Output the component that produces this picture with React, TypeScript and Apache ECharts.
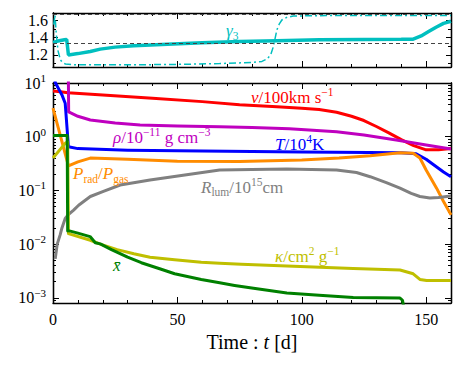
import React, { useEffect, useRef } from 'react';
import * as echarts from 'echarts';

const serif = "'Liberation Serif', 'DejaVu Serif', serif";

// ---------- axes / ticks ----------
const X_MIN = 0;
const X_MAX = 160;
const X_STEP = 50;
const X_LABELS = [0, 50, 100, 150];

const G_MIN = 1.06;
const G_MAX = 1.685;
const G_LABELS = [1.2, 1.4, 1.6];
const G_MINOR = [1.1, 1.3, 1.5];
const G_REF = [5 / 3, 4 / 3];

const L_MIN = 0.0008;
const L_MAX = 10;
const L_MAJOR = [0.001, 0.01, 0.1, 1, 10];
const L_MINOR = [
  0.0009,
  0.002, 0.003, 0.004, 0.005, 0.006, 0.007, 0.008, 0.009,
  0.02, 0.03, 0.04, 0.05, 0.06, 0.07, 0.08, 0.09,
  0.2, 0.3, 0.4, 0.5, 0.6, 0.7, 0.8, 0.9,
  2, 3, 4, 5, 6, 7, 8, 9,
];

// ---------- data: top panel (gamma_3) ----------
const gamT = [0, 2, 4.6, 5.5, 6.2, 10, 15, 19, 25, 32.5, 46, 60, 75, 90, 107, 125, 140, 144.8, 148, 151, 154, 157, 160];
const gamV = [1.345, 1.36, 1.375, 1.38, 1.2, 1.215, 1.24, 1.267, 1.29, 1.305, 1.324, 1.34, 1.354, 1.365, 1.374, 1.378, 1.38, 1.382, 1.42, 1.47, 1.52, 1.565, 1.59];

const gam2T = [0.3, 0.8, 1.3, 2, 3, 4, 5, 9, 30, 50, 67, 80.6, 84, 86, 87.5, 88.6, 90, 91, 92, 94, 96.6, 110, 160];
const gam2V = [1.55, 1.66, 1.45, 1.25, 1.14, 1.11, 1.095, 1.086, 1.085, 1.09, 1.1, 1.113, 1.125, 1.152, 1.2, 1.297, 1.489, 1.56, 1.604, 1.635, 1.65, 1.655, 1.655];

// ---------- data: bottom panel (log) ----------
const velT = [0, 3, 6, 20, 40, 60, 75, 90, 100, 107, 114, 120, 125, 130, 135, 140, 145, 150, 155, 160];
const velV = [7.1, 6.9, 6.6, 6.0, 5.2, 4.5, 3.95, 3.6, 3.4, 3.2, 2.85, 2.4, 2.0, 1.55, 1.18, 0.88, 0.68, 0.57, 0.57, 0.6];

const rhoT = [6, 6.3, 10, 15, 25, 35, 50, 67, 80, 95, 114, 125, 138, 150, 160];
const rhoV = [100, 2.9, 2.4, 2.05, 1.8, 1.65, 1.58, 1.54, 1.48, 1.4, 1.24, 1.08, 0.87, 0.7, 0.59];

const tempT = [0, 1, 3.6, 4.9, 6.2, 10, 30, 60, 100, 140, 146, 150, 153, 157, 160];
const tempV = [15, 10, 6.0, 4.2, 0.65, 0.6, 0.56, 0.54, 0.52, 0.5, 0.48, 0.38, 0.3, 0.22, 0.18];

const presT = [0, 6.2, 10, 15, 30, 50, 75, 100, 115, 127.5, 139.5, 144.8, 147.5, 150, 154.2, 157, 160];
const presV = [3.4, 0.285, 0.34, 0.4, 0.38, 0.35, 0.345, 0.37, 0.4, 0.44, 0.5, 0.49, 0.4, 0.24, 0.11, 0.062, 0.035];

const rlumT = [0.9, 1.7, 2.9, 3.6, 4.9, 6.3, 8.3, 10.3, 15, 20, 27, 39, 53, 67, 80, 94, 114, 122, 127.5, 134, 139.5, 144, 147.5, 151.5, 155, 160];
const rlumV = [0.0053, 0.01, 0.015, 0.02, 0.03, 0.036, 0.043, 0.053, 0.077, 0.095, 0.126, 0.156, 0.194, 0.24, 0.245, 0.25, 0.24, 0.215, 0.18, 0.14, 0.11, 0.088, 0.077, 0.072, 0.074, 0.079];

const kapT = [0, 4.9, 5.9, 6.2, 15, 19, 25.8, 32.5, 39, 48.9, 59.6, 67, 75.7, 94, 120.7, 139.5, 144.8, 147.5, 150.2, 160];
const kapV = [0.4, 0.75, 0.8, 0.0157, 0.0118, 0.01, 0.0079, 0.0066, 0.0057, 0.0051, 0.0046, 0.0044, 0.0042, 0.0039, 0.0035, 0.0033, 0.0028, 0.0022, 0.0021, 0.0021];

const xbarT = [0, 5.7, 5.9, 6.2, 10, 14.9, 17, 19, 23.5, 30, 35.5, 43.5, 48.9, 59.6, 67, 73, 80.6, 94, 107, 120.7, 139.5, 140.5, 141.5];
const xbarV = [1.05, 1.05, 0.0175, 0.0178, 0.016, 0.0138, 0.0106, 0.0101, 0.0079, 0.0057, 0.0045, 0.0034, 0.0028, 0.0022, 0.0019, 0.0017, 0.0015, 0.00123, 0.00111, 0.00101, 0.00099, 0.0009, 0.0005];

// ---------- colours ----------
const C_CYAN = '#00BFBF';
const C_RED = '#FF0000';
const C_MAG = '#BF00BF';
const C_BLUE = '#0000FF';
const C_ORANGE = '#FF8C00';
const C_GRAY = '#808080';
const C_OLIVE = '#BFBF00';
const C_GREEN = '#008000';

const pairs = (t: number[], v: number[]) => t.map((x, i) => [x, v[i]]);

const lineAx = { show: true, onZero: false, lineStyle: { color: '#000', width: 1.3 } };

function xAx(gridIndex: number, position: string, showLabel: boolean, extra: any = {}) {
  return {
    type: 'value', gridIndex, position, min: X_MIN, max: X_MAX, interval: X_STEP,
    axisLine: lineAx,
    axisTick: { show: true, inside: true, length: 6, lineStyle: { color: '#000', width: 1 } },
    minorTick: { show: true, splitNumber: 5, length: 3, lineStyle: { color: '#000', width: 1 } },
    axisLabel: showLabel
      ? { show: true, customValues: X_LABELS, fontFamily: serif, fontSize: 16, color: '#000', margin: 8 }
      : { show: false },
    splitLine: { show: false },
    minorSplitLine: { show: false },
    ...extra,
  };
}

function gAx(position: string, ticks: number[], len: number, labels: boolean) {
  return {
    type: 'value', gridIndex: 0, position, min: G_MIN, max: G_MAX,
    axisLine: lineAx,
    axisTick: { show: true, inside: true, length: len, customValues: ticks, lineStyle: { color: '#000', width: 1 } },
    axisLabel: labels
      ? { show: true, customValues: G_LABELS, formatter: (v: number) => Number(v).toFixed(1), fontFamily: serif, fontSize: 16, color: '#000', margin: 5 }
      : { show: false },
    splitLine: { show: false },
  };
}

const supRich = {
  b: { fontFamily: serif, fontSize: 16, color: '#000', lineHeight: 21 },
  s: { fontFamily: serif, fontSize: 11, color: '#000', lineHeight: 11, verticalAlign: 'top' },
};

function lAx(position: string, ticks: number[], len: number, labels: boolean) {
  return {
    type: 'log', logBase: 10, gridIndex: 1, position, min: L_MIN, max: L_MAX,
    axisLine: lineAx,
    axisTick: { show: true, inside: true, length: len, customValues: ticks, lineStyle: { color: '#000', width: 1 } },
    axisLabel: labels
      ? {
          show: true, customValues: L_MAJOR, margin: 7,
          formatter: (v: number) => {
            const e = Math.round(Math.log10(Number(v)));
            return `{b|10}{s|${e < 0 ? '\u2212' + -e : e}}`;
          },
          rich: supRich,
        }
      : { show: false },
    splitLine: { show: false },
    minorTick: { show: false },
  };
}

function zr(c: string) {
  return {
    i: { fill: c, fontFamily: serif, fontStyle: 'italic', fontSize: 17, lineHeight: 22 },
    n: { fill: c, fontFamily: serif, fontSize: 17, lineHeight: 22 },
    sup: { fill: c, fontFamily: serif, fontSize: 11.5, lineHeight: 11, verticalAlign: 'top' },
    sub: { fill: c, fontFamily: serif, fontSize: 11.5, lineHeight: 14, verticalAlign: 'bottom' },
  };
}

function label(text: string, color: string, left: number, top: number) {
  return { type: 'text', left, top, z: 50, style: { text, rich: zr(color), fill: color, font: `17px ${serif}` } };
}

function ser(t: number[], v: number[], color: string, width = 3, extra: any = {}) {
  return {
    type: 'line', xAxisIndex: 2, yAxisIndex: 2, data: pairs(t, v), showSymbol: false, symbol: 'none',
    lineStyle: { color, width, cap: 'butt', join: 'round' }, clip: true, silent: true,
    ...extra,
  };
}

const option: any = {
  animation: false,
  backgroundColor: '#fff',
  grid: [
    { left: 53, top: 13, width: 398, height: 54 },
    { left: 53, top: 83, width: 398, height: 220 },
  ],
  xAxis: [
    xAx(0, 'bottom', false),
    xAx(0, 'top', false),
    xAx(1, 'bottom', true, {
      name: '{n|Time : }{i|t}{n| [d]}',
      nameLocation: 'middle',
      nameGap: 25,
      nameTextStyle: {
        rich: {
          n: { fontFamily: serif, fontSize: 20, color: '#000' },
          i: { fontFamily: serif, fontSize: 20, fontStyle: 'italic', color: '#000' },
        },
      },
    }),
    xAx(1, 'top', false),
  ],
  yAxis: [
    gAx('left', G_LABELS, 5, true),
    gAx('right', G_LABELS, 5, false),
    lAx('left', L_MAJOR, 6, true),
    lAx('left', L_MINOR, 3, false),
    lAx('right', L_MAJOR, 6, false),
    lAx('right', L_MINOR, 3, false),
    gAx('left', G_MINOR, 3, false),
    gAx('right', G_MINOR, 3, false),
  ],
  series: [
    {
      type: 'line', xAxisIndex: 0, yAxisIndex: 0, data: pairs(gam2T, gam2V), showSymbol: false, symbol: 'none',
      lineStyle: { color: C_CYAN, width: 1.5, type: [7, 3, 2, 3] }, clip: true, silent: true,
      markLine: {
        silent: true, symbol: 'none', label: { show: false },
        lineStyle: { type: [4, 3], color: '#444', width: 1 },
        data: G_REF.map((y) => ({ yAxis: y })),
      },
    },
    {
      type: 'line', xAxisIndex: 0, yAxisIndex: 0, data: pairs(gamT, gamV), showSymbol: false, symbol: 'none',
      lineStyle: { color: C_CYAN, width: 3.5 }, clip: true, silent: true,
    },
    ser(velT, velV, C_RED),
    ser(rhoT, rhoV, C_MAG),
    ser(tempT, tempV, C_BLUE),
    ser(presT, presV, C_ORANGE),
    ser(rlumT, rlumV, C_GRAY),
    ser(kapT, kapV, C_OLIVE),
    ser(xbarT, xbarV, C_GREEN),
  ],
  graphic: [
    label('{i|γ}{sub|3}', C_CYAN, 226, 22),
    label('{i|v}{n|/100km s}{sup|\u22121}', C_RED, 251, 86),
    label('{i|ρ}{n|/10}{sup|\u221211}{n| g cm}{sup|\u22123}', C_MAG, 113, 126),
    label('{i|T}{n|/10}{sup|4}{n|K}', C_BLUE, 275, 133),
    label('{i|P}{sub|rad}{n|/}{i|P}{sub|gas}', C_ORANGE, 73, 165),
    label('{i|R}{sub|lum}{n|/10}{sup|15}{n|cm}', C_GRAY, 201, 176),
    label('{i|κ}{n|/cm}{sup|2}{n| g}{sup|\u22121}', C_OLIVE, 275, 245),
    label('{i|x\u0304}', C_GREEN, 113, 257),
  ],
};

export default function App() {
  const ref = useRef<HTMLDivElement>(null);
  useEffect(() => {
    const chart = echarts.init(ref.current!, null, { renderer: 'svg' });
    chart.setOption(option);
    return () => chart.dispose();
  }, []);
  return (
    <div
      ref={ref}
      style={{ position: 'fixed', left: 0, top: 0, width: 463, height: 367, background: '#fff' }}
    />
  );
}
